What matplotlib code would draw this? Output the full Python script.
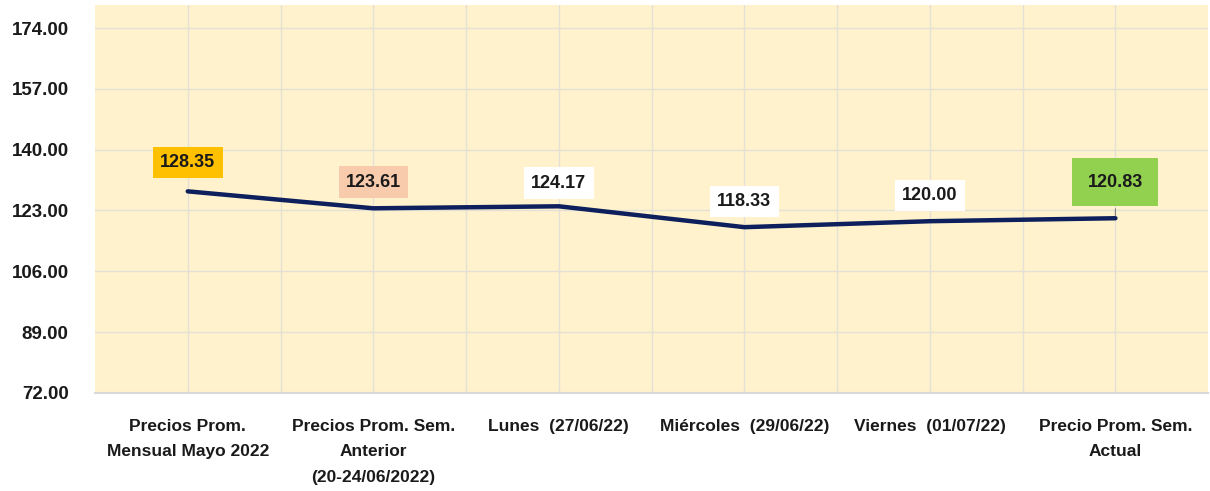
import matplotlib.pyplot as plt
import matplotlib.font_manager as fm

# Data
categories = ['Precios Prom.\nMensual Mayo 2022',
              'Precios Prom. Sem.\nAnterior\n(20-24/06/2022)',
              'Lunes  (27/06/22)',
              'Miércoles  (29/06/22)',
              'Viernes  (01/07/22)',
              'Precio Prom. Sem.\nActual']
prices = [128.35, 123.61, 124.17, 118.33, 120.00, 120.83]
y_ticks = [72, 89, 106, 123, 140, 157, 174]

# label box colours and vertical offsets (in data units) above each point
box_colors = ['#ffc000', '#f8cbad', 'white', 'white', 'white', '#92d050']
label_offsets = [8.1, 7.3, 6.5, 7.2, 7.2, 10.1]
box_pads = [0.4, 0.4, 0.4, 0.4, 0.4, 0.85]

names = {f.name for f in fm.fontManager.ttflist}
family = ['Liberation Sans Narrow', 'DejaVu Sans'] if 'Liberation Sans Narrow' in names else ['Liberation Sans', 'DejaVu Sans']
plt.rcParams['font.family'] = family

fig = plt.figure(figsize=(12.1, 4.91), dpi=100)
ax = fig.add_axes([0.0785, 0.2, 0.92, 0.79])
ax.set_facecolor('#fff2cc')

x = list(range(len(categories)))
ax.plot(x, prices, color='#0d1f5c', linewidth=3.2, solid_capstyle='round', zorder=3)

for xi, yi, c, off, pad in zip(x, prices, box_colors, label_offsets, box_pads):
    ax.annotate(f'{yi:.2f}', xy=(xi, yi), xytext=(xi, yi + off),
                ha='center', va='center', fontsize=13, fontweight='bold', color='#1a1a1a',
                bbox=dict(boxstyle=f'square,pad={pad}', fc=c, ec='none'),
                arrowprops=dict(arrowstyle='-', color='#7f7f7f', lw=0.8) if pad > 0.5 else None,
                zorder=4)

ax.set_xlim(-0.5, len(categories) - 0.5)
ax.set_ylim(72, 180.5)
ax.set_yticks(y_ticks)
ax.set_yticklabels([f'{v:.2f}' for v in y_ticks], fontsize=13.5, fontweight='bold', color='#1a1a1a')
ax.set_xticks(x)
ax.set_xticklabels(categories, fontsize=12.5, fontweight='bold', color='#1a1a1a', linespacing=1.85)
ax.set_xticks([i + 0.5 for i in x[:-1]], minor=True)

ax.grid(True, which='both', color='#e3e0d6', linewidth=1)
ax.set_axisbelow(True)
ax.tick_params(axis='both', which='both', length=0)
ax.tick_params(axis='x', pad=19)
ax.tick_params(axis='y', pad=19)
for side in ['top', 'right', 'left']:
    ax.spines[side].set_visible(False)
ax.spines['bottom'].set_color('#d9d9d9')
ax.spines['bottom'].set_linewidth(1.5)

fig.savefig('out.png', dpi=100)
